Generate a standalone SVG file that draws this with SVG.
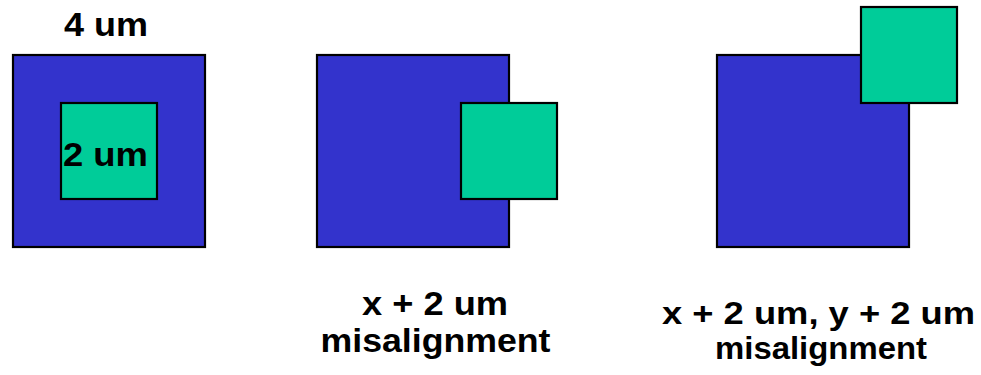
<svg xmlns="http://www.w3.org/2000/svg" width="981" height="375" viewBox="0 0 981 375">
<style>
.outer{fill:#3333CC;stroke:#000;stroke-width:2.2}
.inner{fill:#00CC99;stroke:#000;stroke-width:2.2}
text{font-family:"Liberation Sans",Arial,sans-serif;font-weight:bold;font-size:34px;fill:#000}
.lbl{font-size:34px}
.lbl2{font-size:31px}
</style>
<rect width="981" height="375" fill="#fff"/>
<g id="pattern1">
<rect class="outer" x="13" y="55" width="192" height="192"/>
<rect class="inner" x="61" y="103" width="96" height="96"/>
<text x="64" y="36" textLength="84" lengthAdjust="spacingAndGlyphs">4 um</text>
<text x="63" y="165.5" textLength="85" lengthAdjust="spacingAndGlyphs">2 um</text>
</g>
<g id="pattern2">
<rect class="outer" x="317" y="55" width="192" height="192"/>
<rect class="inner" x="461" y="103" width="96" height="96"/>
<text class="lbl" x="362" y="315" textLength="146" lengthAdjust="spacingAndGlyphs">x + 2 um</text>
<text class="lbl" x="320.5" y="351.5" textLength="230" lengthAdjust="spacingAndGlyphs">misalignment</text>
</g>
<g id="pattern3">
<rect class="outer" x="717" y="55" width="192" height="192"/>
<rect class="inner" x="861" y="7" width="96" height="96"/>
<text class="lbl2" x="662" y="323.5" textLength="313" lengthAdjust="spacingAndGlyphs">x + 2 um, y + 2 um</text>
<text class="lbl2" x="715" y="358.5" textLength="212" lengthAdjust="spacingAndGlyphs">misalignment</text>
</g>
<g id="connectors"/>
</svg>
